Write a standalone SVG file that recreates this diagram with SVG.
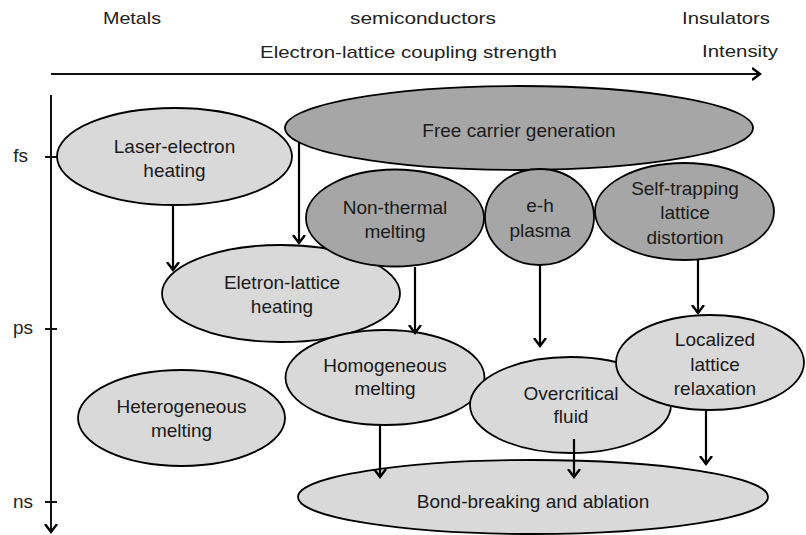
<svg xmlns="http://www.w3.org/2000/svg" width="806" height="535" viewBox="0 0 806 535">
<defs>
<style>
.hdr{font-family:"Liberation Sans",Arial,sans-serif;font-size:17px;fill:#222}
.lbl{font-family:"Liberation Sans",Arial,sans-serif;font-size:19px;fill:#1a1a1a;text-anchor:middle}
.tick{font-family:"Liberation Sans",Arial,sans-serif;font-size:19px;fill:#222;text-anchor:end}
.light{fill:#d9d9d9;stroke:#000;stroke-width:1.8}
.dark{fill:#a6a6a6;stroke:#000;stroke-width:1.8}
.ax{stroke:#111;stroke-width:2;fill:none}
.arr{stroke:#000;stroke-width:2.2;fill:none;marker-end:url(#ah)}
</style>
<marker id="ah" markerUnits="userSpaceOnUse" markerWidth="16" markerHeight="16" viewBox="-8 -8 16 16" refX="0" refY="0" orient="auto">
<path d="M-8,-6 L0,0 L-8,6" fill="none" stroke="#000" stroke-width="2.4"/>
</marker>
</defs>

<g id="axes">
<line class="ax" x1="51" y1="74" x2="760" y2="74" style="marker-end:url(#ah)"/>
<line class="ax" x1="51" y1="95" x2="51" y2="532" style="marker-end:url(#ah)"/>
<line class="ax" x1="45" y1="157" x2="57" y2="157"/>
<line class="ax" x1="45" y1="329" x2="57" y2="329"/>
<line class="ax" x1="45" y1="502" x2="57" y2="502"/>
<text class="tick" x="28" y="162">fs</text>
<text class="tick" x="33" y="334">ps</text>
<text class="tick" x="33" y="508">ns</text>
<text class="hdr" x="103" y="24" textLength="58" lengthAdjust="spacingAndGlyphs">Metals</text>
<text class="hdr" x="350" y="24" textLength="146" lengthAdjust="spacingAndGlyphs">semiconductors</text>
<text class="hdr" x="682" y="24" textLength="88" lengthAdjust="spacingAndGlyphs">Insulators</text>
<text class="hdr" x="260" y="58" textLength="297" lengthAdjust="spacingAndGlyphs">Electron-lattice coupling strength</text>
<text class="hdr" x="702" y="57" textLength="76" lengthAdjust="spacingAndGlyphs">Intensity</text>
</g>

<g id="free-carrier">
<ellipse class="dark" cx="519" cy="128" rx="234" ry="42"/>
<text class="lbl" x="519" y="137">Free carrier generation</text>
</g>
<g id="laser-electron">
<ellipse class="light" cx="174.5" cy="156.5" rx="117.5" ry="48.5"/>
<text class="lbl" x="174.5" y="153">Laser-electron</text>
<text class="lbl" x="174.5" y="177">heating</text>
</g>
<g id="eletron-lattice">
<ellipse class="light" cx="281" cy="293.5" rx="119" ry="48.5"/>
<text class="lbl" x="282" y="289">Eletron-lattice</text>
<text class="lbl" x="282" y="313">heating</text>
</g>
<g id="non-thermal">
<ellipse class="dark" cx="395" cy="218" rx="89" ry="48.5"/>
<text class="lbl" x="395" y="214">Non-thermal</text>
<text class="lbl" x="395" y="238">melting</text>
</g>
<g id="eh-plasma">
<ellipse class="dark" cx="539.5" cy="217" rx="54.5" ry="48"/>
<text class="lbl" x="540" y="212">e-h</text>
<text class="lbl" x="540" y="237">plasma</text>
</g>
<g id="self-trapping">
<ellipse class="dark" cx="684.5" cy="211.5" rx="89.5" ry="48.5"/>
<text class="lbl" x="685" y="195">Self-trapping</text>
<text class="lbl" x="685" y="219">lattice</text>
<text class="lbl" x="685" y="244">distortion</text>
</g>
<g id="heterogeneous">
<ellipse class="light" cx="181.5" cy="418" rx="103.5" ry="48"/>
<text class="lbl" x="181.5" y="413">Heterogeneous</text>
<text class="lbl" x="181.5" y="437">melting</text>
</g>
<g id="homogeneous">
<ellipse class="light" cx="385" cy="377.5" rx="99.5" ry="47.5"/>
<text class="lbl" x="385" y="372">Homogeneous</text>
<text class="lbl" x="385" y="395">melting</text>
</g>
<g id="overcritical">
<ellipse class="light" cx="570.5" cy="405" rx="100.5" ry="48"/>
<text class="lbl" x="571" y="400">Overcritical</text>
<text class="lbl" x="571" y="423">fluid</text>
</g>
<g id="localized">
<ellipse class="light" cx="710" cy="362.5" rx="94" ry="47.5"/>
<text class="lbl" x="715" y="346">Localized</text>
<text class="lbl" x="715" y="371">lattice</text>
<text class="lbl" x="715" y="395">relaxation</text>
</g>
<g id="bond-breaking">
<ellipse class="light" cx="533" cy="497" rx="235" ry="37"/>
<text class="lbl" x="533" y="508">Bond-breaking and ablation</text>
</g>

<g id="connectors">
<line class="arr" x1="173" y1="206" x2="173" y2="270"/>
<line class="arr" x1="299" y1="143" x2="299" y2="243"/>
<line class="arr" x1="415" y1="267" x2="415" y2="333"/>
<line class="arr" x1="540" y1="265" x2="540" y2="346"/>
<line class="arr" x1="698" y1="260" x2="698" y2="313"/>
<line class="arr" x1="380" y1="425" x2="380" y2="477"/>
<line class="arr" x1="574" y1="439" x2="574" y2="477"/>
<line class="arr" x1="706" y1="411" x2="706" y2="464"/>
</g>
</svg>
